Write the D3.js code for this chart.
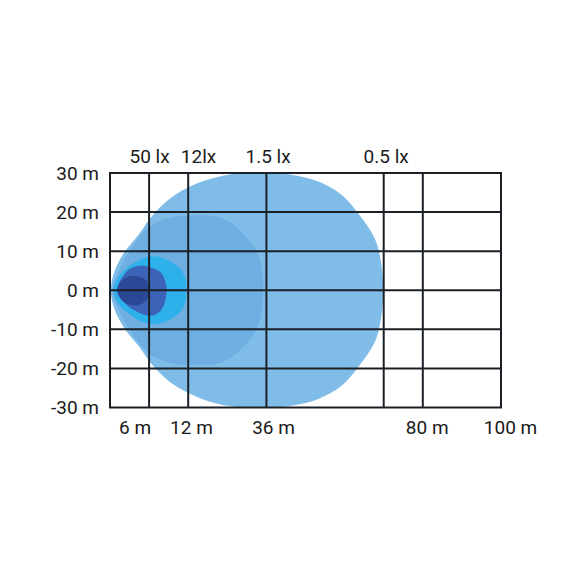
<!DOCTYPE html>
<html lang="en">
  <head>
    <meta charset="utf-8">
    <title>Beam pattern</title>
    <style>
      body { margin: 0; background: #fff; }
      svg { display: block; }
      text { font-family: Roboto, "Noto Sans", sans-serif; }
    </style>
  </head>
  <body>
    <svg></svg>

    <script src="https://d3js.org/d3.v7.min.js"></script>

    <script>
      // grid lines (grid units, 10 per cell) and tick labels
      var gridX = [0, 10, 20, 40, 70, 80, 100];
      var gridY = [30, 20, 10, 0, -10, -20, -30];

      var bottomTickAt = [6.3, 20.7, 41.7, 81, 102.3];
      var bottomLabels = ['6 m', '12 m', '36 m', '80 m', '100 m'];

      var topTickAt = [10, 22.5, 40.3, 70.5];
      var topLabels = ['50 lx', '12lx', '1.5 lx', '0.5 lx'];

      // zone outlines: [x grid units, y metres]
      // upper halves (mirrored below the axis)
      var zone05 = [[0.2, 0], [1.2, 5], [3.8, 9.9], [7.2, 14.1], [11.5, 19.9], [16.6, 24.4],
                    [23.5, 27.8], [31.1, 29.7], [39, 30], [46, 29.6], [53.3, 27.8], [59.3, 24.4],
                    [63.3, 19.9], [67.3, 14.1], [68.8, 9.9], [69.9, 0]];
      var zone15 = [[0.5, 0], [2, 4.5], [4, 8.5], [7, 13], [10.2, 16.3], [15, 18.5], [22.6, 19.2],
                    [29, 18.3], [34.5, 14.1], [37.9, 9], [39.2, 0]];
      var zone12 = [[0.9, 0], [2.2, 3.5], [5.5, 6.5], [8.5, 8.2], [11.5, 8.7], [15, 7.6],
                    [17.9, 5.6], [19.3, 2.8], [19.6, 0]];
      // full outlines
      var zone50 = [[1.9, 0], [3.8, 4.3], [5.8, 5.8], [8.5, 6.3], [11, 5.6], [13.2, 4.3],
                    [14.5, 0.4], [13.6, -4.2], [12, -6], [10.3, -6.5], [7.5, -5.8], [4.3, -3.8]];
      var zoneCore = [[1.8, 0], [2.6, 2], [4.3, 3.3], [6.9, 3.6], [9.2, 2.6], [10.2, 0.5],
                      [9.7, -2], [7.9, -3.6], [5.4, -3.8], [3.1, -2.6]];

      var zoneColors = ['#7fbce8', '#6faee1', '#2eb1eb', '#3b64b7', '#2b4896'];

      function mirror(pts) {
        var low = pts.slice(1, -1).reverse().map(function (p) { return [p[0], -p[1]]; });
        return pts.concat(low);
      }

      var zones = [mirror(zone05), mirror(zone15), mirror(zone12), zone50, zoneCore];

      var svgWidth = 580;
      var svgHeight = 580;
      var gLeft = 110, gRight = 501, gTop = 173, gBottom = 407.5;

      var svg = d3.select('svg')
          .attr('width', svgWidth)
          .attr('height', svgHeight);

      var x = d3.scaleLinear().domain([0, 100]).range([gLeft, gRight]);
      var y = d3.scaleLinear().domain([-30, 30]).range([gBottom, gTop]);

      var line = d3.line()
          .x(function (d) { return x(d[0]); })
          .y(function (d) { return y(d[1]); })
          .curve(d3.curveCatmullRomClosed.alpha(0.5));

      svg.append('g')
        .selectAll('path')
        .data(zones)
        .enter()
        .append('path')
          .attr('d', line)
          .attr('fill', function (d, i) { return zoneColors[i]; });

      // grid on top of the zones
      var grid = svg.append('g')
          .attr('stroke', '#1b1f26')
          .attr('stroke-width', 2);

      grid.selectAll('.vx')
        .data(gridX)
        .enter()
        .append('line')
          .attr('x1', function (d) { return x(d); })
          .attr('x2', function (d) { return x(d); })
          .attr('y1', y(30))
          .attr('y2', y(-30));

      grid.selectAll('.hy')
        .data(gridY)
        .enter()
        .append('line')
          .attr('x1', x(0) - 1)
          .attr('x2', x(100) + 1)
          .attr('y1', function (d) { return y(d); })
          .attr('y2', function (d) { return y(d); });

      // axes, labels only
      function style(g) {
        g.select('.domain').remove();
        g.selectAll('line').remove();
        g.selectAll('text')
          .attr('fill', '#1a1a1a')
          .style('font-size', '19px');
      }

      svg.append('g')
          .attr('transform', 'translate(' + gLeft + ',0)')
          .call(d3.axisLeft(y)
            .tickValues(gridY)
            .tickFormat(function (d) { return d + ' m'; })
            .tickSize(0)
            .tickPadding(11))
          .call(style);

      svg.append('g')
          .attr('transform', 'translate(0,' + gBottom + ')')
          .call(d3.axisBottom(x)
            .tickValues(bottomTickAt)
            .tickFormat(function (d, i) { return bottomLabels[i]; })
            .tickSize(0)
            .tickPadding(13))
          .call(style);

      svg.append('g')
          .attr('transform', 'translate(0,' + gTop + ')')
          .call(d3.axisTop(x)
            .tickValues(topTickAt)
            .tickFormat(function (d, i) { return topLabels[i]; })
            .tickSize(0)
            .tickPadding(10))
          .call(style);
    </script>
  </body>
</html>
